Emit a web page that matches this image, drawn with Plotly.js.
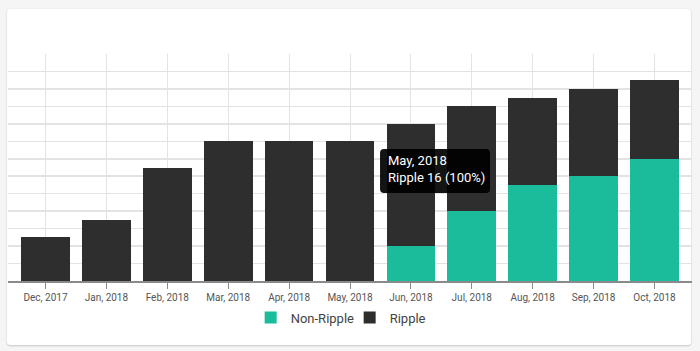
<!DOCTYPE html>
<html>
<head>
<meta charset="utf-8">
<script src="https://cdn.plot.ly/plotly-3.0.1.min.js"></script>
<style>
  html, body { margin: 0; padding: 0; background: #f5f5f5; }
  #card { position: absolute; left: 7px; top: 9px; width: 684px; height: 336px; background: #fff;
          border-radius: 3px; box-shadow: 0 1px 2px rgba(0,0,0,0.18), 0 0 1px rgba(0,0,0,0.12); }
  #chart { position: absolute; left: 0; top: 0; width: 700px; height: 351px; }
</style>
</head>
<body>
<div id="card"></div>
<div id="chart"></div>
<script>
const months = ["Dec, 2017", "Jan, 2018", "Feb, 2018", "Mar, 2018", "Apr, 2018", "May, 2018",
                "Jun, 2018", "Jul, 2018", "Aug, 2018", "Sep, 2018", "Oct, 2018"];
const nonRipple = [0, 0, 0, 0, 0, 0, 4, 8, 11, 12, 14];
const ripple = [5, 7, 13, 16, 16, 16, 14, 12, 10, 10, 9];
const tooltipText = "May, 2018<br>Ripple 16 (100%)";

const traces = [
  { type: "bar", name: "Non-Ripple", x: months, y: nonRipple, marker: { color: "#1abc9c" }, hoverinfo: "none" },
  { type: "bar", name: "Ripple", x: months, y: ripple, marker: { color: "#2e2e2e" }, hoverinfo: "none" }
];

const layout = {
  width: 700, height: 351,
  margin: { l: 8, r: 8, t: 54, b: 70 },
  paper_bgcolor: "rgba(0,0,0,0)",
  plot_bgcolor: "rgba(0,0,0,0)",
  barmode: "stack",
  bargap: 0.2,
  font: { family: "Roboto, sans-serif", color: "#555" },
  showlegend: true,
  legend: { orientation: "h", x: 0.4995, xanchor: "center", y: -0.095, yanchor: "top",
            font: { size: 13, color: "#444" }, itemwidth: 30, traceorder: "normal",
            entrywidth: 54, entrywidthmode: "pixels" },
  xaxis: {
    type: "category",
    range: [-0.616, 10.616],
    showgrid: true, gridcolor: "#e3e3e3", gridwidth: 1,
    showline: true, linecolor: "#8a8a8a", linewidth: 1.5,
    ticks: "outside", ticklen: 6, tickcolor: "#8a8a8a", tickwidth: 1,
    tickfont: { size: 10, color: "#555" },
    fixedrange: true
  },
  yaxis: {
    range: [0, 26], dtick: 2, tick0: 0,
    showgrid: true, gridcolor: "#e3e3e3", gridwidth: 1.5,
    showticklabels: false, zeroline: false, showline: false, ticks: "",
    fixedrange: true
  },
  shapes: [{
    type: "path", xref: "paper", yref: "paper", layer: "above",
    path: "M 0.5497,0.5815 L 0.6989,0.5815 Q 0.7047,0.5815 0.7047,0.5639 L 0.7047,0.4053 Q 0.7047,0.3877 0.6989,0.3877 L 0.5497,0.3877 Q 0.5439,0.3877 0.5439,0.4053 L 0.5439,0.5639 Q 0.5439,0.5815 0.5497,0.5815 Z",
    fillcolor: "rgba(0,0,0,0.92)", line: { width: 0 }
  }],
  annotations: [{
    xref: "paper", yref: "paper", x: 0.5439, y: 0.5815, xanchor: "left", yanchor: "top",
    xshift: 4, text: tooltipText, showarrow: false, align: "left",
    font: { size: 13, color: "#ffffff", family: "Roboto, sans-serif" },
    bgcolor: "rgba(0,0,0,0)", borderwidth: 0, borderpad: 4
  }]
};

Plotly.newPlot("chart", traces, layout, { displayModeBar: false, staticPlot: true });
</script>
</body>
</html>
